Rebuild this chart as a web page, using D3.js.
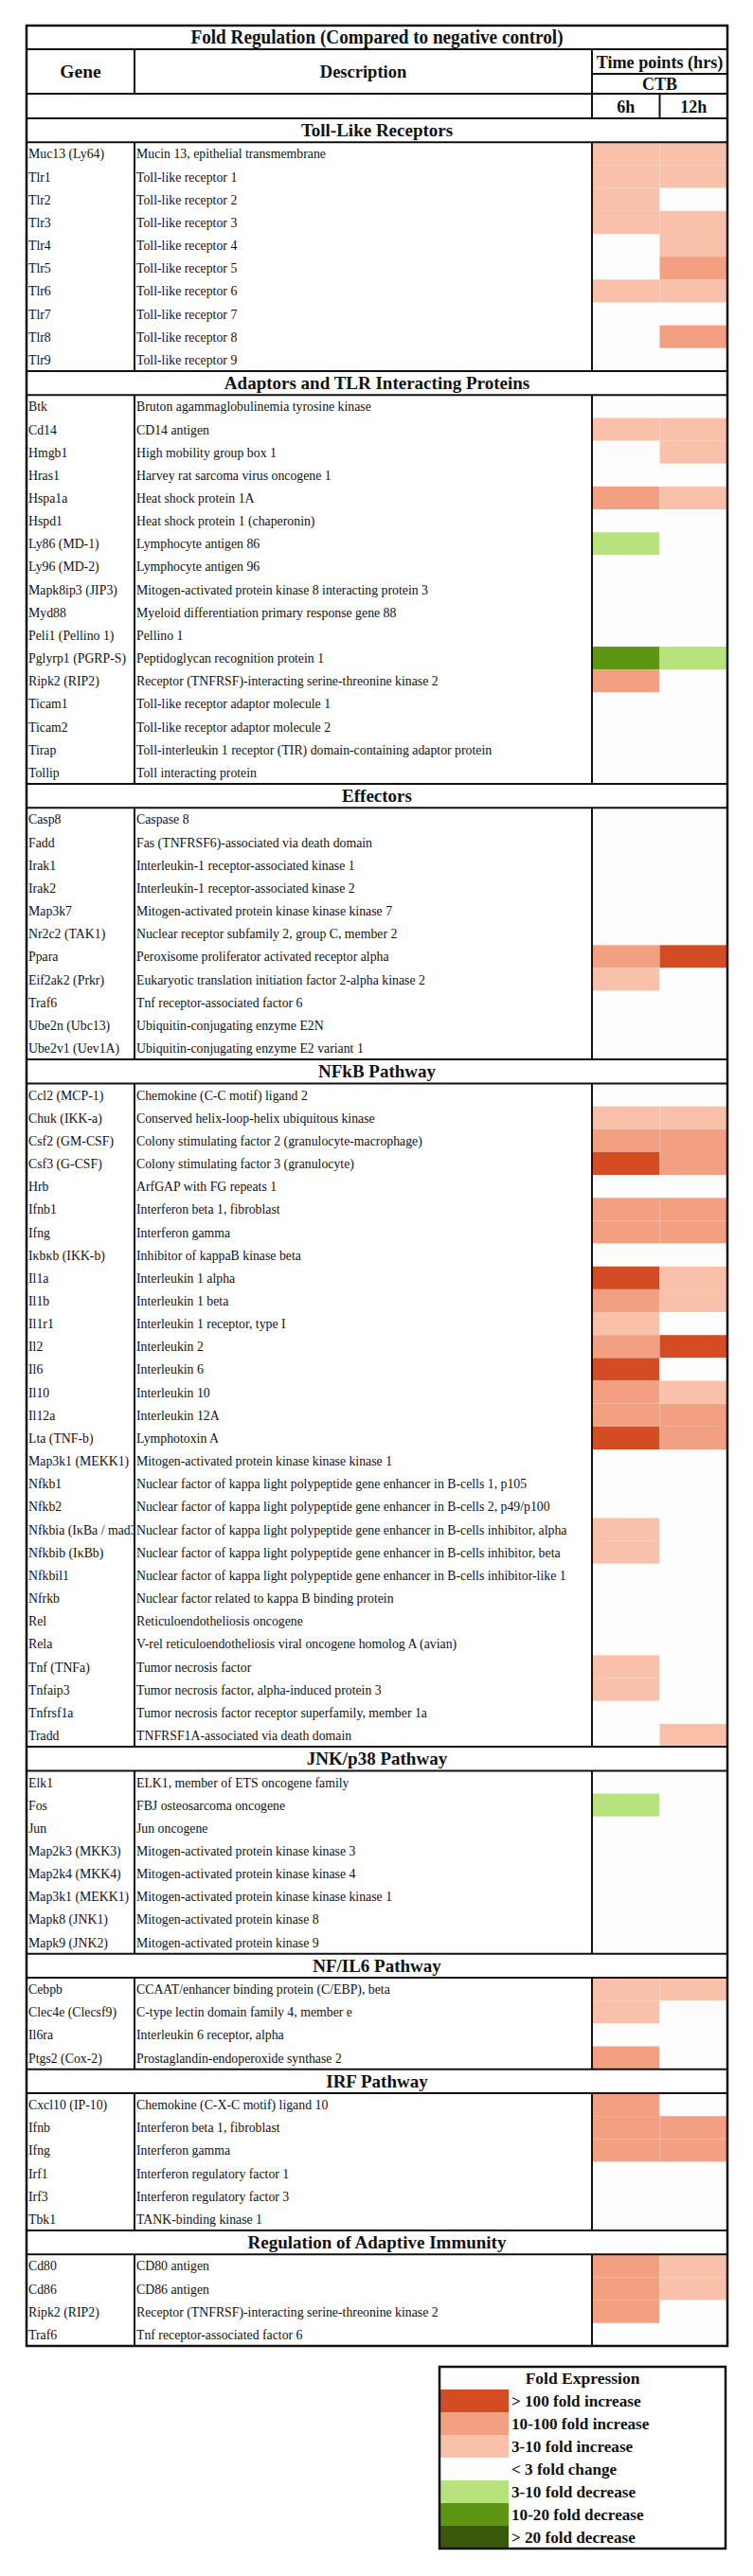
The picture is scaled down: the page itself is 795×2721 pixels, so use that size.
<!DOCTYPE html>
<html>
<head>
<meta charset="utf-8">
<script src="https://cdn.jsdelivr.net/npm/d3@7"></script>
<style>
  body { margin: 0; background: #fff; }
  svg text { font-family: "Liberation Serif", "Times New Roman", serif; fill: #111; }
</style>
</head>
<body>
<svg id="chart" width="795" height="2721"></svg>
<script>
// fold codes: 3 >100 up, 2 10-100 up, 1 3-10 up, 0 <3, -1 3-10 down, -2 10-20 down, -3 >20 down
const sections = [
  "Toll-Like Receptors",
  "Adaptors and TLR Interacting Proteins",
  "Effectors",
  "NFkB Pathway",
  "JNK/p38 Pathway",
  "NF/IL6 Pathway",
  "IRF Pathway",
  "Regulation of Adaptive Immunity"
];
const sectionSizes = [10, 17, 11, 29, 8, 4, 6, 4];

const genes = [
  "Muc13 (Ly64)", "Tlr1", "Tlr2", "Tlr3", "Tlr4", "Tlr5", "Tlr6", "Tlr7", "Tlr8", "Tlr9",
  "Btk", "Cd14", "Hmgb1", "Hras1", "Hspa1a", "Hspd1", "Ly86 (MD-1)", "Ly96 (MD-2)", "Mapk8ip3 (JIP3)",
  "Myd88", "Peli1 (Pellino 1)", "Pglyrp1 (PGRP-S)", "Ripk2 (RIP2)", "Ticam1", "Ticam2", "Tirap", "Tollip",
  "Casp8", "Fadd", "Irak1", "Irak2", "Map3k7", "Nr2c2 (TAK1)", "Ppara", "Eif2ak2 (Prkr)", "Traf6",
  "Ube2n (Ubc13)", "Ube2v1 (Uev1A)",
  "Ccl2 (MCP-1)", "Chuk (IKK-a)", "Csf2 (GM-CSF)", "Csf3 (G-CSF)", "Hrb", "Ifnb1", "Ifng", "Iκbκb (IKK-b)",
  "Il1a", "Il1b", "Il1r1", "Il2", "Il6", "Il10", "Il12a", "Lta (TNF-b)", "Map3k1 (MEKK1)", "Nfkb1",
  "Nfkb2", "Nfkbia (IκBa / mad3)", "Nfkbib (IκBb)", "Nfkbil1", "Nfrkb", "Rel", "Rela", "Tnf (TNFa)",
  "Tnfaip3", "Tnfrsf1a", "Tradd",
  "Elk1", "Fos", "Jun", "Map2k3 (MKK3)", "Map2k4 (MKK4)", "Map3k1 (MEKK1)", "Mapk8 (JNK1)", "Mapk9 (JNK2)",
  "Cebpb", "Clec4e (Clecsf9)", "Il6ra", "Ptgs2 (Cox-2)",
  "Cxcl10 (IP-10)", "Ifnb", "Ifng", "Irf1", "Irf3", "Tbk1",
  "Cd80", "Cd86", "Ripk2 (RIP2)", "Traf6"
];

const descriptions = [
  "Mucin 13, epithelial transmembrane", "Toll-like receptor 1", "Toll-like receptor 2", "Toll-like receptor 3",
  "Toll-like receptor 4", "Toll-like receptor 5", "Toll-like receptor 6", "Toll-like receptor 7",
  "Toll-like receptor 8", "Toll-like receptor 9",
  "Bruton agammaglobulinemia tyrosine kinase", "CD14 antigen", "High mobility group box 1",
  "Harvey rat sarcoma virus oncogene 1", "Heat shock protein 1A", "Heat shock protein 1 (chaperonin)",
  "Lymphocyte antigen 86", "Lymphocyte antigen 96", "Mitogen-activated protein kinase 8 interacting protein 3",
  "Myeloid differentiation primary response gene 88", "Pellino 1", "Peptidoglycan recognition protein 1",
  "Receptor (TNFRSF)-interacting serine-threonine kinase 2", "Toll-like receptor adaptor molecule 1",
  "Toll-like receptor adaptor molecule 2", "Toll-interleukin 1 receptor (TIR) domain-containing adaptor protein",
  "Toll interacting protein",
  "Caspase 8", "Fas (TNFRSF6)-associated via death domain", "Interleukin-1 receptor-associated kinase 1",
  "Interleukin-1 receptor-associated kinase 2", "Mitogen-activated protein kinase kinase kinase 7",
  "Nuclear receptor subfamily 2, group C, member 2", "Peroxisome proliferator activated receptor alpha",
  "Eukaryotic translation initiation factor 2-alpha kinase 2", "Tnf receptor-associated factor 6",
  "Ubiquitin-conjugating enzyme E2N", "Ubiquitin-conjugating enzyme E2 variant 1",
  "Chemokine (C-C motif) ligand 2", "Conserved helix-loop-helix ubiquitous kinase",
  "Colony stimulating factor 2 (granulocyte-macrophage)", "Colony stimulating factor 3 (granulocyte)",
  "ArfGAP with FG repeats 1", "Interferon beta 1, fibroblast", "Interferon gamma",
  "Inhibitor of kappaB kinase beta", "Interleukin 1 alpha", "Interleukin 1 beta",
  "Interleukin 1 receptor, type I", "Interleukin 2", "Interleukin 6", "Interleukin 10", "Interleukin 12A",
  "Lymphotoxin A", "Mitogen-activated protein kinase kinase kinase 1",
  "Nuclear factor of kappa light polypeptide gene enhancer in B-cells 1, p105",
  "Nuclear factor of kappa light polypeptide gene enhancer in B-cells 2, p49/p100",
  "Nuclear factor of kappa light polypeptide gene enhancer in B-cells inhibitor, alpha",
  "Nuclear factor of kappa light polypeptide gene enhancer in B-cells inhibitor, beta",
  "Nuclear factor of kappa light polypeptide gene enhancer in B-cells inhibitor-like 1",
  "Nuclear factor related to kappa B binding protein", "Reticuloendotheliosis oncogene",
  "V-rel reticuloendotheliosis viral oncogene homolog A (avian)", "Tumor necrosis factor",
  "Tumor necrosis factor, alpha-induced protein 3", "Tumor necrosis factor receptor superfamily, member 1a",
  "TNFRSF1A-associated via death domain",
  "ELK1, member of ETS oncogene family", "FBJ osteosarcoma oncogene", "Jun oncogene",
  "Mitogen-activated protein kinase kinase 3", "Mitogen-activated protein kinase kinase 4",
  "Mitogen-activated protein kinase kinase kinase 1", "Mitogen-activated protein kinase 8",
  "Mitogen-activated protein kinase 9",
  "CCAAT/enhancer binding protein (C/EBP), beta", "C-type lectin domain family 4, member e",
  "Interleukin 6 receptor, alpha", "Prostaglandin-endoperoxide synthase 2",
  "Chemokine (C-X-C motif) ligand 10", "Interferon beta 1, fibroblast", "Interferon gamma",
  "Interferon regulatory factor 1", "Interferon regulatory factor 3", "TANK-binding kinase 1",
  "CD80 antigen", "CD86 antigen", "Receptor (TNFRSF)-interacting serine-threonine kinase 2",
  "Tnf receptor-associated factor 6"
];

const fold6h = [
  1, 1, 1, 1, 0, 0, 1, 0, 0, 0,
  0, 1, 0, 0, 2, 0, -1, 0, 0, 0, 0, -2, 2, 0, 0, 0, 0,
  0, 0, 0, 0, 0, 0, 2, 1, 0, 0, 0,
  0, 1, 2, 3, 0, 2, 2, 0, 3, 2, 1, 2, 3, 2, 2, 3, 0, 0, 0, 1, 1, 0, 0, 0, 0, 1, 1, 0, 0,
  0, -1, 0, 0, 0, 0, 0, 0,
  1, 1, 0, 2,
  2, 2, 2, 0, 0, 0,
  2, 2, 2, 0
];
const fold12h = [
  1, 1, 0, 1, 1, 2, 1, 0, 2, 0,
  0, 1, 1, 0, 1, 0, 0, 0, 0, 0, 0, -1, 0, 0, 0, 0, 0,
  0, 0, 0, 0, 0, 0, 3, 0, 0, 0, 0,
  0, 1, 2, 2, 0, 2, 2, 0, 1, 1, 0, 3, 0, 1, 2, 2, 0, 0, 0, 0, 0, 0, 0, 0, 0, 0, 0, 0, 1,
  0, 0, 0, 0, 0, 0, 0, 0,
  1, 0, 0, 0,
  0, 2, 2, 0, 0, 0,
  1, 1, 0, 0
];

const timePoints = ["6h", "12h"];
const legendCodes = [3, 2, 1, 0, -1, -2, -3];
const legendLabels = [
  "> 100 fold increase", "10-100 fold increase", "3-10 fold increase", "< 3 fold change",
  "3-10 fold decrease", "10-20 fold decrease", "> 20 fold decrease"
];

// ---------- layout ----------
const svg = d3.select("#chart");
const X0 = 28, XG = 142, XD = 625, X1 = 768;
const headY = [27, 52, 78, 99, 125];
const bodyBottom = 2478;
const SX = 0.92;        // body type in the original is squeezed a bit
const HEAD_U = 1.05;    // section header rows are slightly taller

const color = d3.scaleOrdinal()
  .domain(legendCodes)
  .range(["#d44c24", "#f3a082", "#f9c1aa", "#fdfdfd", "#b7e37d", "#5e9614", "#3a580a"]);

// rows: section header + gene rows, stacked in "units"
const items = [];
let gi = 0;
sections.forEach((name, s) => {
  items.push({ type: "section", name, units: HEAD_U });
  for (let k = 0; k < sectionSizes[s]; k++, gi++) items.push({ type: "gene", i: gi, units: 1 });
});
let acc = 0;
items.forEach(d => { d.u0 = acc; acc += d.units; d.u1 = acc; });

const y = d3.scaleLinear().domain([0, acc]).range([headY[4], bodyBottom]);
const xT = d3.scaleBand().domain(timePoints).range([XD, X1]);

svg.append("rect").attr("width", 795).attr("height", 2721).attr("fill", "#fff");

function label(g, txt, x, yy, size, bold, anchor, sx) {
  return g.append("text")
    .attr("transform", `translate(${x},${yy}) scale(${sx || SX},1)`)
    .attr("text-anchor", anchor || "start")
    .style("font-size", size + "px")
    .style("font-weight", bold ? "700" : "400")
    .text(txt);
}

// ---------- cells ----------
const geneRows = items.filter(d => d.type === "gene");
const cells = svg.append("g").attr("class", "cells");
geneRows.forEach(d => {
  [fold6h[d.i], fold12h[d.i]].forEach((v, t) => {
    cells.append("rect")
      .attr("x", xT(timePoints[t]))
      .attr("y", y(d.u0))
      .attr("width", xT.bandwidth())
      .attr("height", y(d.u1) - y(d.u0))
      .attr("fill", color(v));
  });
});

// ---------- texts ----------
svg.append("clipPath").attr("id", "geneClip")
  .append("rect").attr("x", X0).attr("y", 0).attr("width", XG - X0 - 1).attr("height", 2721);

const txt = svg.append("g");
const geneTxt = txt.append("g").attr("clip-path", "url(#geneClip)");
geneRows.forEach(d => {
  const cy = (y(d.u0) + y(d.u1)) / 2 + 5;
  label(geneTxt, genes[d.i], X0 + 2, cy, 15, false);
  label(txt, descriptions[d.i], XG + 2, cy, 15, false);
});

items.filter(d => d.type === "section").forEach(d => {
  label(txt, d.name, (X0 + X1) / 2, (y(d.u0) + y(d.u1)) / 2 + 6.5, 19, true, "middle", 1);
});

// header block
label(txt, "Fold Regulation (Compared to negative control)", (X0 + X1) / 2, (headY[0] + headY[1]) / 2 + 6.5, 20, true, "middle", 0.96);
label(txt, "Gene", (X0 + XG) / 2, (headY[1] + headY[3]) / 2 + 6.5, 19.5, true, "middle", 1);
label(txt, "Description", (XG + XD) / 2, (headY[1] + headY[3]) / 2 + 6.5, 18.5, true, "middle", 1);
label(txt, "Time points (hrs)", (XD + X1) / 2, (headY[1] + headY[2]) / 2 + 6.5, 18.5, true, "middle", 0.98);
label(txt, "CTB", (XD + X1) / 2, (headY[2] + headY[3]) / 2 + 6.5, 18, true, "middle", 1);
timePoints.forEach(t => {
  label(txt, t, xT(t) + xT.bandwidth() / 2, (headY[3] + headY[4]) / 2 + 6.5, 18, true, "middle", 1);
});

// ---------- rules ----------
const lines = svg.append("g").attr("stroke", "#111").attr("stroke-width", 2).attr("fill", "none");
function hline(x1, x2, yy) { lines.append("line").attr("x1", x1).attr("x2", x2).attr("y1", yy).attr("y2", yy); }
function vline(xx, y1, y2) { lines.append("line").attr("x1", xx).attr("x2", xx).attr("y1", y1).attr("y2", y2); }

lines.append("rect").attr("x", X0).attr("y", headY[0]).attr("width", X1 - X0).attr("height", bodyBottom - headY[0])
  .attr("stroke-width", 2.5);
hline(X0, X1, headY[1]);
hline(XD, X1, headY[2]);
hline(X0, X1, headY[3]);
vline(XG, headY[1], headY[3]);
vline(XD, headY[1], headY[4]);
vline(xT("12h"), headY[3], headY[4]);

items.forEach((d, k) => {
  if (d.type === "section") {
    hline(X0, X1, y(d.u0));
    hline(X0, X1, y(d.u1));
    let e = k + 1;
    while (e < items.length && items[e].type === "gene") e++;
    const yEnd = e < items.length ? y(items[e].u0) : bodyBottom;
    vline(XG, y(d.u1), yEnd);
    vline(XD, y(d.u1), yEnd);
  }
});

// ---------- legend ----------
const LX0 = 464, LX1 = 766, LY0 = 2500, LSW = 537, LROW = 24;
const leg = svg.append("g");
const ly = d3.scaleBand().domain(legendCodes).range([LY0 + 24, LY0 + 24 + LROW * legendCodes.length]);
leg.selectAll("rect.sw").data(legendCodes).join("rect")
  .attr("class", "sw")
  .attr("x", LX0).attr("y", d => ly(d))
  .attr("width", LSW - LX0).attr("height", ly.bandwidth())
  .attr("fill", d => color(d));
label(leg, "Fold Expression", (LX0 + LX1) / 2, LY0 + 18, 17.5, true, "middle", 1);
legendCodes.forEach((c, k) => {
  label(leg, legendLabels[k], LSW + 3, ly(c) + ly.bandwidth() / 2 + 6, 17.5, true, "start", 0.98);
});
leg.append("rect")
  .attr("x", LX0).attr("y", LY0)
  .attr("width", LX1 - LX0).attr("height", 24 + LROW * legendCodes.length)
  .attr("fill", "none").attr("stroke", "#111").attr("stroke-width", 2.5);
</script>
</body>
</html>
